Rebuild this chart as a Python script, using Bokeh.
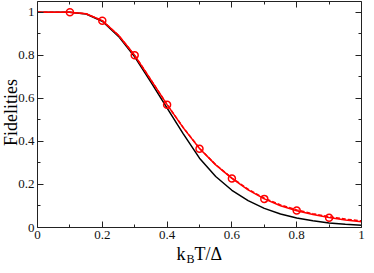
import math
from bokeh.plotting import figure
from bokeh.models import Range1d, FixedTicker, LinearAxis, Label, CustomJSTickFormatter
from bokeh.embed import file_html
from bokeh.resources import INLINE

# ---- data ----
x_curve = [0.0, 0.05, 0.1, 0.15, 0.2, 0.25, 0.3, 0.35, 0.4, 0.45, 0.5,
           0.55, 0.6, 0.65, 0.7, 0.75, 0.8, 0.85, 0.9, 0.95, 1.0]
black_curve = [1.0, 1.0, 0.9995, 0.992, 0.958, 0.888, 0.793, 0.675, 0.555, 0.435, 0.322,
               0.237, 0.173, 0.125, 0.089, 0.063, 0.044, 0.031, 0.021, 0.015, 0.010]
red_curve = [1.0, 1.0, 0.9995, 0.993, 0.961, 0.893, 0.800, 0.686, 0.571, 0.463, 0.367,
             0.291, 0.228, 0.175, 0.133, 0.101, 0.078, 0.060, 0.046, 0.035, 0.027]
red_dashed = [1.0, 1.0, 0.9995, 0.993, 0.961, 0.893, 0.800, 0.686, 0.571, 0.464, 0.368,
              0.292, 0.230, 0.178, 0.136, 0.105, 0.082, 0.064, 0.050, 0.039, 0.031]
x_points = [0.1, 0.2, 0.3, 0.4, 0.5, 0.6, 0.7, 0.8, 0.9]
y_points = [1.0, 0.961, 0.800, 0.570, 0.366, 0.228, 0.133, 0.079, 0.045]

x_ticks = [0, 0.2, 0.4, 0.6, 0.8, 1]
x_tick_labels = ["0", "0.2", "0.4", "0.6", "0.8", "1"]
x_minor = [0.1, 0.3, 0.5, 0.7, 0.9]
y_ticks = [0, 0.2, 0.4, 0.6, 0.8, 1]
y_tick_labels = ["0", "0.2", "0.4", "0.6", "0.8", "1"]
y_minor = [0.1, 0.3, 0.5, 0.7, 0.9]
x_lim = (0, 1)
y_lim = (0, 1.05)

x_title_parts = ["k", "B", "T/\u0394"]
y_title = "Fidelities"

FONT = "'Liberation Serif'"
AX = "#222222"

# plotting area is extended beyond the data limits so the axis titles fit;
# the axes are pinned at the data limits with fixed_location
p = figure(width=366, height=265, output_backend="svg", toolbar_location=None,
           x_range=Range1d(-0.1142, 1.0154), y_range=Range1d(-0.1765, 1.0546),
           x_axis_type=None, y_axis_type=None, min_border=0)
p.grid.visible = False
p.outline_line_color = None
p.background_fill_color = "white"
p.border_fill_color = "white"

def make_axis(ticks, minor, labels, show, loc, bounds):
    ax = LinearAxis(ticker=FixedTicker(ticks=ticks, minor_ticks=minor),
                    fixed_location=loc, bounds=bounds)
    ax.axis_line_color = AX
    ax.axis_line_width = 1
    ax.major_tick_line_color = AX
    ax.minor_tick_line_color = AX
    ax.major_tick_in = 6
    ax.major_tick_out = 0
    ax.minor_tick_in = 3
    ax.minor_tick_out = 0
    if show:
        ax.major_label_overrides = {t: l for t, l in zip(ticks, labels)}
        ax.major_label_text_font = FONT
        ax.major_label_text_font_size = "13px"
        ax.major_label_text_color = "#111111"
        ax.major_label_standoff = 3
    else:
        ax.formatter = CustomJSTickFormatter(code="return ''")
        ax.major_label_standoff = 0
        ax.major_label_text_font_size = "1px"
    return ax

p.add_layout(make_axis(x_ticks, x_minor, x_tick_labels, True, y_lim[0], x_lim), "below")
p.add_layout(make_axis(y_ticks, y_minor, y_tick_labels, True, x_lim[0], y_lim), "left")
p.add_layout(make_axis(x_ticks, x_minor, x_tick_labels, False, y_lim[1], x_lim), "above")
p.add_layout(make_axis(y_ticks, y_minor, y_tick_labels, False, x_lim[1], y_lim), "right")

p.line(x_curve, black_curve, line_color="black", line_width=1.5)
p.line(x_curve, red_dashed, line_color="red", line_width=1.5, line_dash="4 2")
p.line(x_curve, red_curve, line_color="red", line_width=1.5)
p.scatter(x_points, y_points, marker="circle", size=7, fill_color=None,
          line_color="red", line_width=1.5)

# axis titles
p.add_layout(Label(x=-0.0809, y=0.534, text=y_title, angle=math.pi / 2,
                   text_align="center", text_baseline="middle",
                   text_font=FONT, text_font_size="18px", text_color="black"))
p.add_layout(Label(x=0.429, y=-0.1208, text=x_title_parts[0], text_align="left",
                   text_baseline="middle", text_font=FONT, text_font_size="18px",
                   text_color="black"))
p.add_layout(Label(x=0.4599, y=-0.144, text=x_title_parts[1], text_align="left",
                   text_baseline="middle", text_font=FONT, text_font_size="12px",
                   text_color="black"))
p.add_layout(Label(x=0.4846, y=-0.1208, text=x_title_parts[2], text_align="left",
                   text_baseline="middle", text_font=FONT, text_font_size="18px",
                   text_color="black"))

open("out.html", "w").write(file_html(p, INLINE))
